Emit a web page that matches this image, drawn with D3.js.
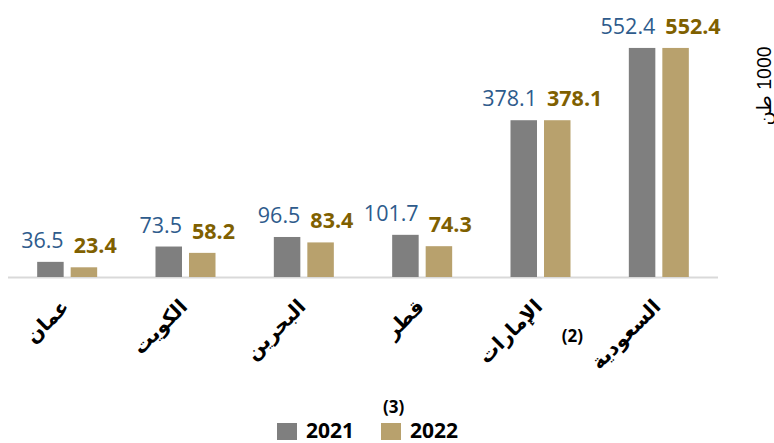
<!DOCTYPE html>
<html>
<head>
<meta charset="utf-8">
<script src="https://cdn.jsdelivr.net/npm/d3@7"></script>
<style>
html,body{margin:0;padding:0;background:#fff;}
svg{display:block;}
</style>
</head>
<body>
<svg id="chart" width="774" height="443"></svg>
<script>
const categories = ["عمان", "الكويت", "البحرين", "قطر", "الإمارات", "السعودية"];
const values2021 = [36.5, 73.5, 96.5, 101.7, 378.1, 552.4];
const values2022 = [23.4, 58.2, 83.4, 74.3, 378.1, 552.4];
const seriesNames = ["2021", "2022"];
const yTitle = "1000 طن";

const svg = d3.select("#chart");
const baseY = 277;

const x0 = d3.scaleBand().domain(categories).range([8, 718]).paddingInner(0).paddingOuter(0);
const barW = 26.5, gap = 7;
const x1 = d3.scaleOrdinal().domain(seriesNames).range([-gap/2 - barW, gap/2]);
const y = d3.scaleLinear().domain([0, 600]).range([baseY, 28.2]);

const colors = {"2021": "#7F7F7F", "2022": "#B8A16D"};
const labelColors = {"2021": "#2E5B8C", "2022": "#7F6000"};

const data = categories.map((c, i) => ({cat: c, vals: [
  {s: "2021", v: values2021[i]},
  {s: "2022", v: values2022[i]}
]}));

// axis line
svg.append("line")
  .attr("x1", x0.range()[0]).attr("x2", x0.range()[1])
  .attr("y1", baseY + 0.5).attr("y2", baseY + 0.5)
  .attr("stroke", "#D9D9D9").attr("stroke-width", 2);

const g = svg.selectAll("g.grp").data(data).enter().append("g")
  .attr("class", "grp")
  .attr("transform", d => `translate(${x0(d.cat) + x0.bandwidth()/2},0)`);

g.selectAll("rect").data(d => d.vals).enter().append("rect")
  .attr("x", d => x1(d.s))
  .attr("width", barW)
  .attr("y", d => y(d.v))
  .attr("height", d => baseY - y(d.v))
  .attr("fill", d => colors[d.s]);

g.selectAll("text.val").data(d => d.vals).enter().append("text")
  .attr("class", "val")
  .attr("x", d => d.s === "2021" ? x1(d.s) + barW : x1(d.s) + 3)
  .attr("y", d => y(d.v) - 14)
  .attr("text-anchor", d => d.s === "2021" ? "end" : "start")
  .attr("font-family", "'Open Sans', sans-serif")
  .attr("font-size", 21.5)
  .attr("font-weight", d => d.s === "2021" ? "normal" : "bold")
  .attr("fill", d => labelColors[d.s])
  .text(d => d.v.toFixed(1));

// category labels
svg.selectAll("text.cat").data(categories).enter().append("text")
  .attr("class", "cat")
  .attr("transform", d => `translate(${x0(d) + x0.bandwidth()/2 + 3},${baseY + 31}) rotate(-45)`)
  .attr("text-anchor", "end")
  .attr("font-family", "Arial, 'DejaVu Sans', sans-serif")
  .attr("font-size", 20)
  .attr("font-weight", "bold")
  .attr("fill", "#000")
  .text(d => d);

// footnote markers
svg.append("text")
  .attr("x", x0("السعودية") - 38).attr("y", 342)
  .attr("font-family", "'Open Sans', sans-serif").attr("font-size", 17).attr("font-weight", "bold")
  .text("(2)");

// y title
svg.append("text")
  .attr("transform", `translate(771,86) rotate(-90)`)
  .attr("text-anchor", "middle")
  .attr("direction", "rtl")
  .attr("font-family", "Arial, 'DejaVu Sans', sans-serif")
  .attr("font-size", 19.5)
  .attr("fill", "#000")
  .text(yTitle);

// legend
const legend = svg.append("g");
svg.append("text")
  .attr("x", 383).attr("y", 413)
  .attr("font-family", "'Open Sans', sans-serif").attr("font-size", 17).attr("font-weight", "bold")
  .text("(3)");
const lx = [277, 381];
seriesNames.forEach((s, i) => {
  legend.append("rect").attr("x", lx[i]).attr("y", 423).attr("width", 20).attr("height", 17).attr("fill", colors[s]);
  legend.append("text").attr("x", lx[i] + 29).attr("y", 438)
    .attr("font-family", "'Open Sans', sans-serif").attr("font-size", 21).attr("font-weight", "bold")
    .attr("fill", "#000").text(s);
});
</script>
</body>
</html>
